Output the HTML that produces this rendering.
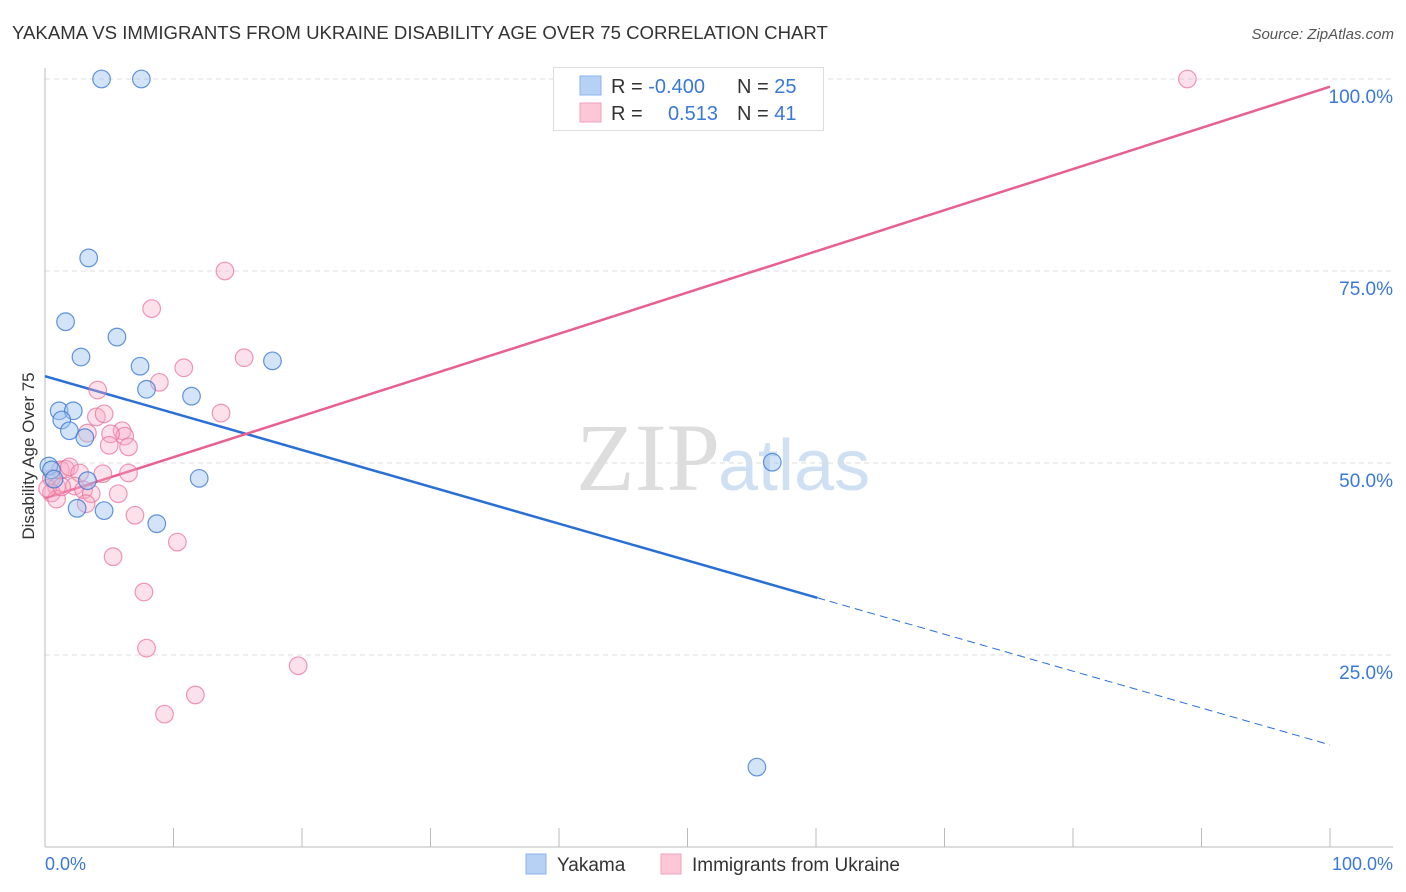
<!DOCTYPE html>
<html><head><meta charset="utf-8"><style>
body{margin:0;background:#fff;font-family:"Liberation Sans",sans-serif;}
svg{display:block}
</style></head><body>
<svg id="chart" width="1406" height="892" xmlns="http://www.w3.org/2000/svg">
<text x="12" y="39" font-size="18.6" fill="#333">YAKAMA VS IMMIGRANTS FROM UKRAINE DISABILITY AGE OVER 75 CORRELATION CHART</text>
<text x="1394" y="39" font-size="15" fill="#555" text-anchor="end" font-style="italic">Source: ZipAtlas.com</text>
<text x="720" y="490" font-size="96" fill="#ddd" text-anchor="end" font-family="Liberation Serif">ZIP</text>
<text x="718" y="490" font-size="72" fill="#cfe0f3">atlas</text>
<g id="grid"></g><g id="axes"></g><g id="lines"></g><g id="points"></g>
<text transform="translate(34,456) rotate(-90)" font-size="17" fill="#333" text-anchor="middle">Disability Age Over 75</text>
<text x="45" y="870" font-size="18" fill="#3a78d8">0.0%</text>
<text x="1393" y="870" font-size="18" fill="#3a78d8" text-anchor="end">100.0%</text>
<g>
<rect x="553.5" y="67.5" width="270" height="63" fill="#fff" stroke="#ddd"/>
<rect x="580" y="76" width="21" height="19" fill="#b7d1f5" stroke="#8ab3ec"/>
<rect x="580" y="103" width="21" height="19" fill="#fcc8d8" stroke="#f0a0ba"/>
<text x="611" y="93" font-size="20" fill="#333">R = <tspan fill="#3a78d8">-0.400</tspan></text>
<text x="737" y="93" font-size="20" fill="#333">N = <tspan fill="#3a78d8">25</tspan></text>
<text x="611" y="120" font-size="20" fill="#333">R = </text>
<text x="718" y="120" font-size="20" fill="#3a78d8" text-anchor="end">0.513</text>
<text x="737" y="120" font-size="20" fill="#333">N = <tspan fill="#3a78d8">41</tspan></text>
</g>
<g>
<rect x="526" y="854" width="20" height="20" fill="#b7d1f5" stroke="#8ab3ec"/>
<text x="557" y="871" font-size="19" fill="#333">Yakama</text>
<rect x="661" y="854" width="20" height="20" fill="#fcc8d8" stroke="#f0a0ba"/>
<text x="692" y="871" font-size="19" fill="#333">Immigrants from Ukraine</text>
</g>
</svg>
<script>
const yTicks=[25,50,75,100];
const yTickLabels=["25.0%","50.0%","75.0%","100.0%"];
const xTicks=[0,10,20,30,40,50,60,70,80,90,100];
const blueX=[4.4,7.5,3.4,1.6,5.6,2.8,7.4,17.7,7.9,11.4,1.1,2.2,1.3,1.9,3.1,0.3,0.5,3.3,0.7,12.0,2.5,4.6,8.7,56.6,55.4];
const blueY=[100,100,76.7,68.4,66.4,63.8,62.6,63.3,59.6,58.7,56.8,56.8,55.6,54.2,53.3,49.6,49.1,47.7,47.9,48.0,44.1,43.8,42.1,50.1,10.4];
const pinkX=[88.9,14.0,8.3,15.5,10.8,8.9,4.1,4.0,4.6,13.7,3.3,6.0,6.2,5.1,5.0,6.5,1.2,1.6,1.9,2.7,4.5,6.5,0.5,0.9,2.3,3.0,3.6,5.7,0.5,0.9,3.2,7.0,10.3,5.3,7.7,7.9,19.7,11.7,9.3,0.2,1.3];
const pinkY=[100,75.0,70.1,63.7,62.4,60.5,59.5,56.0,56.4,56.5,53.9,54.2,53.5,53.8,52.3,52.1,49.1,49.2,49.5,48.7,48.6,48.7,48.0,46.9,47.0,46.5,46.0,46.0,46.1,45.3,44.7,43.2,39.7,37.8,33.2,25.9,23.6,19.8,17.3,46.7,46.9];
const blueTrend=[61.3,13.3];
const blueSolidEnd=60.1;
const pinkTrend=[45.4,99.0];
const X=v=>45+v*12.85, Y=v=>847-v*7.68;
const NS="http://www.w3.org/2000/svg";
function mk(t,a,p){const e=document.createElementNS(NS,t);for(const k in a)e.setAttribute(k,a[k]);p.appendChild(e);return e;}
const grid=document.getElementById('grid'),axes=document.getElementById('axes'),lines=document.getElementById('lines'),pts=document.getElementById('points');
yTicks.forEach((t,i)=>{
 const l=mk('line',{x1:45,x2:1393,y1:Y(t),y2:Y(t),stroke:'#ddd','stroke-dasharray':'5,4'},grid);
 
 
 const tx=mk('text',{x:1393,y:Y(t)+24,'font-size':19,fill:'#3a78d8','text-anchor':'end'},grid);
 tx.textContent=yTickLabels[i];
 
 
});
const ya=mk('line',{x1:45,x2:45,y1:68,y2:847,stroke:'#bbb'},axes);


const xa=mk('line',{x1:45,x2:1393,y1:847,y2:847,stroke:'#bbb'},axes);


xTicks.forEach(t=>{
 const l=mk('line',{x1:X(t),x2:X(t),y1:828,y2:847,stroke:'#bbb'},axes);
 
 
});
const by=x=>blueTrend[0]+(blueTrend[1]-blueTrend[0])*x/100;
const b1=mk('line',{x1:X(0),y1:Y(by(0)),x2:X(blueSolidEnd),y2:Y(by(blueSolidEnd)),stroke:'#2a6fd6','stroke-width':2.5},lines);


const b2=mk('line',{x1:X(blueSolidEnd),y1:Y(by(blueSolidEnd)),x2:X(100),y2:Y(by(100)),stroke:'#2a6fd6','stroke-width':1,'stroke-dasharray':'8,5'},lines);


const p1=mk('line',{x1:X(0),y1:Y(pinkTrend[0]),x2:X(100),y2:Y(pinkTrend[1]),stroke:'#e8608e','stroke-width':2.5},lines);


pinkX.forEach((x,i)=>{
 const c=mk('circle',{cx:X(x),cy:Y(pinkY[i]),r:8.8,fill:'rgba(248,170,195,0.35)',stroke:'rgba(232,110,150,0.7)','stroke-width':1.2},pts);
 
 
});
blueX.forEach((x,i)=>{
 const c=mk('circle',{cx:X(x),cy:Y(blueY[i]),r:8.8,fill:'rgba(160,195,240,0.45)',stroke:'rgba(50,115,210,0.75)','stroke-width':1.2},pts);
 
 
});
</script>
</body></html>
